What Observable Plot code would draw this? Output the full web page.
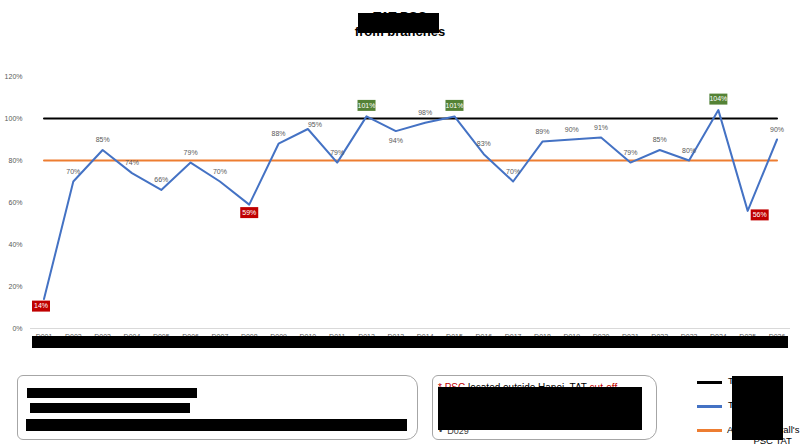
<!DOCTYPE html>
<html><head><meta charset="utf-8">
<script src="https://cdn.jsdelivr.net/npm/d3@7"></script>
<script src="https://cdn.jsdelivr.net/npm/@observablehq/plot@0.6"></script>
<style>
body{margin:0;width:800px;height:448px;position:relative;background:#fff;font-family:"Liberation Sans",Arial,sans-serif;overflow:hidden}
#chart{position:absolute;left:0;top:0}
.title{position:absolute;left:0;width:800px;text-align:center;font-weight:bold;font-size:13px;color:#000;line-height:15px}
.redact{position:absolute;background:#000}
.box{position:absolute;border:1px solid #a6a6a6;background:#fff;box-sizing:border-box}
.lg{position:absolute;height:3px;width:25px}
.lt{position:absolute;font-size:9.5px;color:#000;line-height:11px;white-space:nowrap}
</style></head><body>
<div class="title" style="top:9px">TAT PSC</div>
<div class="title" style="top:24px">from branches</div>
<div id="chart"></div>

<div class="box" style="left:17px;top:375px;width:401px;height:65px;border-radius:6px 12px 12px 6px"></div>
<div class="box" style="left:432px;top:375px;width:225px;height:65px;border-radius:6px 12px 12px 6px">
  <div style="position:absolute;left:5px;top:6px;font-size:10px;white-space:nowrap"><span style="color:#c00000">* PSC</span> located outside Hanoi, TAT <span style="color:#c00000">cut-off</span></div>
  <div style="position:absolute;left:6px;top:50px;font-size:9px;color:#404040;white-space:nowrap">•&nbsp;&nbsp;D029</div>
</div>

<div class="lg" style="left:697px;top:381px;background:#000"></div>
<div class="lg" style="left:697px;top:405px;background:#4472C4"></div>
<div class="lg" style="left:697px;top:429px;background:#ED7D31"></div>
<div class="lt" style="left:728px;top:375px">Target</div>
<div class="lt" style="left:728px;top:399px">TAT PSC</div>
<div class="lt" style="left:727px;top:424px">Average overall's<br>&nbsp;&nbsp;&nbsp;&nbsp;&nbsp;&nbsp;&nbsp;&nbsp;&nbsp;&nbsp;PSC TAT</div>

<div class="redact" style="left:358px;top:13px;width:81px;height:20px"></div>
<div class="redact" style="left:32px;top:336px;width:756px;height:12px"></div>
<div class="redact" style="left:27px;top:388px;width:170px;height:10px"></div>
<div class="redact" style="left:30px;top:403px;width:160px;height:10px"></div>
<div class="redact" style="left:26px;top:419px;width:381px;height:12px"></div>
<div class="redact" style="left:438px;top:387px;width:204px;height:43px"></div>
<div class="redact" style="left:732px;top:376px;width:51px;height:64px"></div>

<script>
const categories = ["D001","D002","D003","D004","D005","D006","D007","D008","D009","D010","D011","D012","D013","D014","D015","D016","D017","D018","D019","D020","D021","D022","D023","D024","D025","D026"];
const tatValues = [0.14,0.70,0.85,0.74,0.66,0.79,0.70,0.59,0.88,0.95,0.79,1.01,0.94,0.98,1.01,0.83,0.70,0.89,0.90,0.91,0.79,0.85,0.80,1.04,0.56,0.90];
const targetValue = 1.0;
const averageValue = 0.8;
const yTicks = [0,0.2,0.4,0.6,0.8,1.0,1.2];

const rows = categories.map((c,i)=>({cat:c, v:tatValues[i]}));
const pct = d => Math.round(d*100)+"%";
const isRed = d => d.v < 0.6;
const isGreen = d => d.v >= 1.0;
const belowPlain = new Set(["D013"]);
const rightPlain = new Set(["D010"]);
const plainAbove = rows.filter(d=>!isRed(d)&&!isGreen(d)&&!belowPlain.has(d.cat)&&!rightPlain.has(d.cat));
const plainRight = rows.filter(d=>rightPlain.has(d.cat));
const plainBelow = rows.filter(d=>!isRed(d)&&!isGreen(d)&&belowPlain.has(d.cat));
const redMid = rows.filter(d=>isRed(d) && d.cat!=="D001" && d.cat!=="D025");
const redFirst = rows.filter(d=>isRed(d) && d.cat==="D001");
const redLast = rows.filter(d=>isRed(d) && d.cat==="D025");
const greenRows = rows.filter(isGreen);
const rectSymbol = {draw(ctx){ ctx.moveTo(-9,-5.5); ctx.lineTo(9,-5.5); ctx.lineTo(9,5.5); ctx.lineTo(-9,5.5); ctx.closePath(); }};
const font = "'Liberation Sans',Arial,sans-serif";
const boxed = (data, fill, dx, dy) => [
  Plot.dot(data,{x:"cat", y:"v", symbol:rectSymbol, r:5, fill, stroke:null, dx, dy}),
  Plot.text(data,{x:"cat", y:"v", text:d=>pct(d.v), dx, dy, fill:"#fff", fontSize:7})
];

const chart = Plot.plot({
  width:800, height:365, marginTop:76, marginBottom:37, marginLeft:30, marginRight:10,
  style:{fontFamily:font, fontSize:"7px", color:"#595959", background:"transparent", overflow:"visible"},
  x:{type:"point", domain:categories, padding:0.46, round:false, label:null},
  y:{domain:[0,1.2], label:null},
  marks:[
    Plot.ruleY([0],{stroke:"#d9d9d9", strokeWidth:1}),
    Plot.axisY({ticks:yTicks, tickSize:0, tickPadding:8, tickFormat:pct, fill:"#595959", fontSize:7, label:null}),
    Plot.axisX({tickSize:0, tickPadding:6, fill:"#595959", fontSize:7, label:null}),
    Plot.lineY(categories,{x:d=>d, y:()=>targetValue, stroke:"#000", strokeWidth:2}),
    Plot.lineY(categories,{x:d=>d, y:()=>averageValue, stroke:"#ED7D31", strokeWidth:2}),
    Plot.line(rows,{x:"cat", y:"v", stroke:"#4472C4", strokeWidth:2}),
    Plot.text(plainAbove,{x:"cat", y:"v", text:d=>pct(d.v), dy:-10, fill:"#595959", fontSize:7}),
    Plot.text(plainRight,{x:"cat", y:"v", text:d=>pct(d.v), dx:7, dy:-4, fill:"#595959", fontSize:7}),
    Plot.text(plainBelow,{x:"cat", y:"v", text:d=>pct(d.v), dy:10, fill:"#595959", fontSize:7}),
    ...boxed(redMid, "#C00000", 0, 8),
    ...boxed(redFirst, "#C00000", -3, 7),
    ...boxed(redLast, "#C00000", 12, 4),
    ...boxed(greenRows, "#548235", 0, -11)
  ]
});
document.getElementById("chart").appendChild(chart);
</script>
</body></html>
